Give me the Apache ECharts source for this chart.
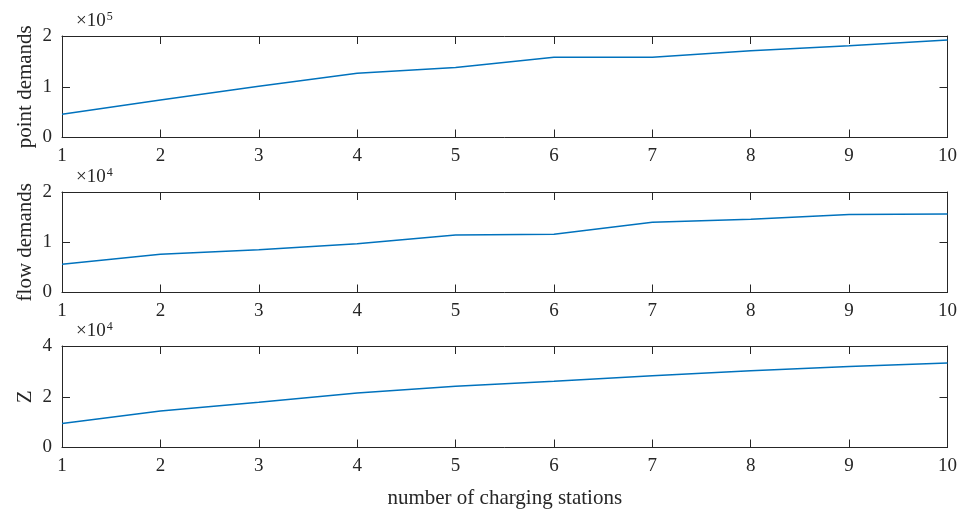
<!DOCTYPE html>
<html>
<head>
<meta charset="utf-8">
<script src="https://cdn.jsdelivr.net/npm/echarts@6/dist/echarts.min.js"></script>
<style>html,body{margin:0;padding:0;background:#fff}#c{width:960px;height:510px}</style>
</head>
<body>
<div id="c"></div>
<script>
const stations = [1, 2, 3, 4, 5, 6, 7, 8, 9, 10];
const pointDemands = [46000, 74000, 101000, 126500, 138000, 158000, 158000, 171000, 181000, 192000];
const flowDemands = [5600, 7600, 8500, 9700, 11450, 11600, 14000, 14600, 15500, 15600];
const zValues = [9500, 14400, 17800, 21500, 24100, 26100, 28300, 30200, 31900, 33300];
const yNames = ['point demands', 'flow demands', 'Z'];
const yMax = [2e5, 2e4, 4e4];
const yStep = [1e5, 1e4, 2e4];
const yScale = [1e5, 1e4, 1e4];
const yExp = ['5', '4', '4'];
const xTitle = 'number of charging stations';

const FONT = 'Liberation Serif';
const AX = '#262626';
const grids = [
  {left: 62, right: 11, top: 36, height: 101.5},
  {left: 62, right: 11, top: 192, height: 100.5},
  {left: 62, right: 11, top: 346, height: 101.5}
];
const seriesData = [pointDemands, flowDemands, zValues];

const xAxis = [], yAxis = [], series = [], title = [];
grids.forEach((g, i) => {
  const common = {
    type: 'value', gridIndex: i, min: 1, max: 10, interval: 1,
    axisLine: {show: true, onZero: false, lineStyle: {color: AX, width: 1}},
    axisTick: {show: true, inside: true, length: 8, lineStyle: {color: AX, width: 1}},
    splitLine: {show: false}
  };
  xAxis.push(Object.assign({}, common, {
    position: 'bottom',
    axisLabel: {show: true, color: AX, fontFamily: FONT, fontSize: 19, margin: 9},
    name: i === 2 ? xTitle : '', nameLocation: 'middle', nameGap: 40,
    nameTextStyle: {color: AX, fontFamily: FONT, fontSize: 21}
  }));
  xAxis.push(Object.assign({}, common, {position: 'top', axisLabel: {show: false}}));
  const yc = {
    type: 'value', gridIndex: i, min: 0, max: yMax[i], interval: yStep[i],
    axisLine: {show: true, onZero: false, lineStyle: {color: AX, width: 1}},
    axisTick: {show: true, inside: true, length: 8, lineStyle: {color: AX, width: 1}},
    splitLine: {show: false}
  };
  yAxis.push(Object.assign({}, yc, {
    position: 'left',
    axisLabel: {show: true, color: AX, fontFamily: FONT, fontSize: 19, margin: 10,
      formatter: v => String(Math.round(v / yScale[i]))},
    name: yNames[i], nameLocation: 'middle', nameGap: 26, nameMoveOverlap: false,
    nameTextStyle: {color: AX, fontFamily: FONT, fontSize: 21}
  }));
  yAxis.push(Object.assign({}, yc, {position: 'right', axisLabel: {show: false}}));
  series.push({
    type: 'line', xAxisIndex: 2 * i, yAxisIndex: 2 * i,
    data: stations.map((s, k) => [s, seriesData[i][k]]),
    showSymbol: false, symbol: 'none',
    lineStyle: {color: '#0072BD', width: 1.5}, animation: false
  });
  title.push({
    text: '{a|×10}{b|' + yExp[i] + '}',
    left: 71, top: g.top - 30,
    textStyle: {fontWeight: 'normal', rich: {
      a: {fontFamily: FONT, fontSize: 19, fontWeight: 'normal', color: AX},
      b: {fontFamily: FONT, fontSize: 12, fontWeight: 'normal', color: AX, padding: [0, 0, 9, 1]}
    }}
  });
});

const chart = echarts.init(document.getElementById('c'));
chart.setOption({
  animation: false,
  backgroundColor: '#fff',
  title: title,
  grid: grids,
  xAxis: xAxis,
  yAxis: yAxis,
  series: series
});
</script>
</body>
</html>
